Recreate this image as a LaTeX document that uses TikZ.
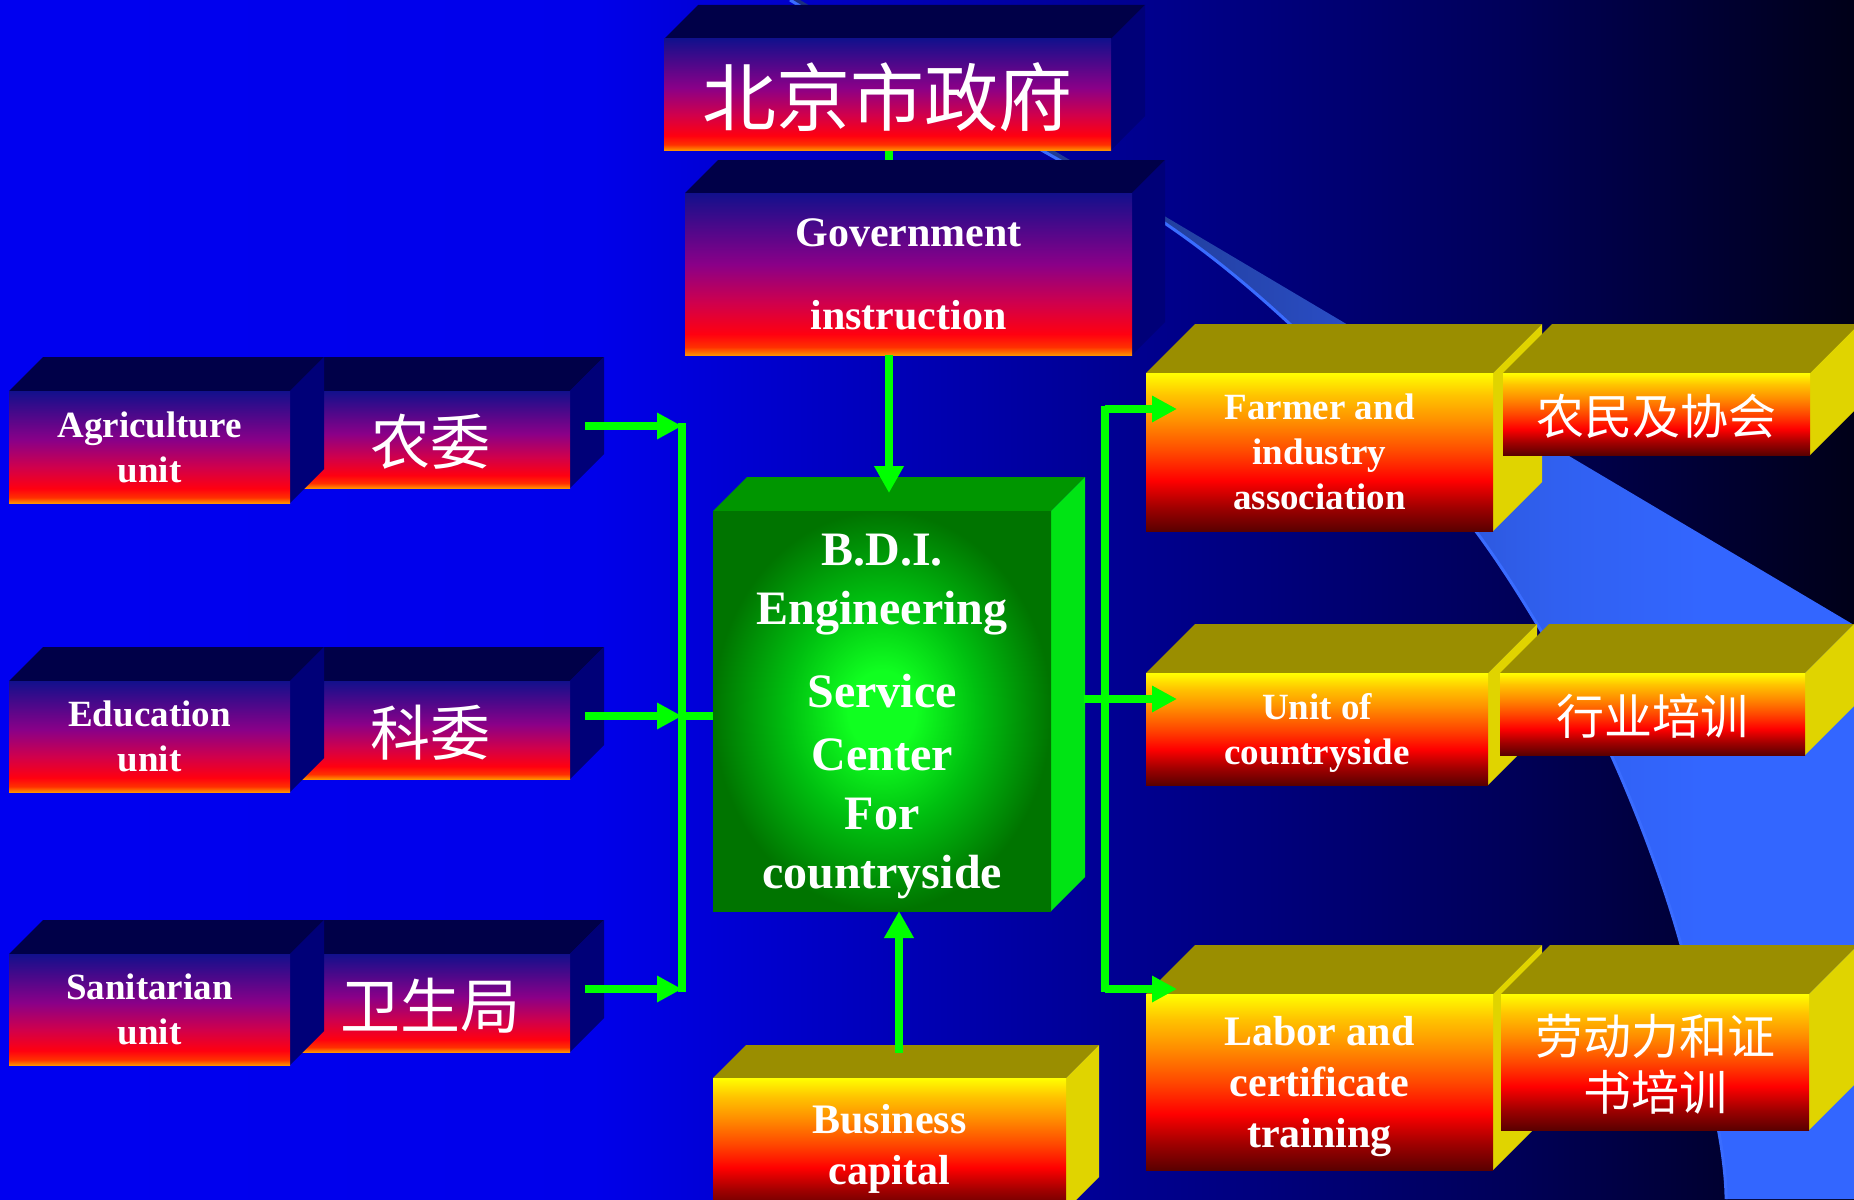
\documentclass[tikz,border=0pt]{standalone}
\usepackage{fontspec}
\setmainfont{Liberation Serif}
\newfontfamily\cjk{Noto Sans CJK SC}
\usetikzlibrary{arrows.meta,calc}
\pgfdeclarelayer{back}
\pgfdeclarelayer{mid}
\pgfsetlayers{back,mid,main}

% background colours
\definecolor{bgA}{HTML}{0000F0}
\definecolor{bgB}{HTML}{0000EA}
\definecolor{bgC}{HTML}{0000C8}
\definecolor{bgD}{HTML}{000094}
\definecolor{bgE}{HTML}{00005A}
\definecolor{bgF}{HTML}{000018}
\pgfdeclarehorizontalshading{bgshade}{100bp}{color(0bp)=(bgA); color(25bp)=(bgA); color(41bp)=(bgB); color(46.5bp)=(bgC); color(54.7bp)=(bgD); color(65.5bp)=(bgE); color(75bp)=(bgF); color(100bp)=(bgF)}
% swoosh
\definecolor{swA}{HTML}{1A2F80}
\definecolor{swB}{HTML}{213E9C}
\definecolor{swC}{HTML}{2A4DC4}
\definecolor{swD}{HTML}{3060F0}
\definecolor{swE}{HTML}{3366FF}
\definecolor{swEdge}{HTML}{3A6CFF}
\pgfdeclarehorizontalshading{swshade}{100bp}{color(0bp)=(swA); color(25bp)=(swA); color(42bp)=(swB); color(51bp)=(swC); color(61bp)=(swD); color(68bp)=(swE); color(100bp)=(swE)}
% navy boxes
\definecolor{nf0}{HTML}{FF9000}
\definecolor{nf1}{HTML}{FF3000}
\definecolor{nf2}{HTML}{FF0010}
\definecolor{nf3}{HTML}{D0004C}
\definecolor{nf4}{HTML}{8A0088}
\definecolor{nf5}{HTML}{12108C}
\definecolor{navyTop}{HTML}{000048}
\definecolor{navySide}{HTML}{000078}
\pgfdeclareverticalshading{navyshade}{100bp}{color(0bp)=(nf0); color(25bp)=(nf0); color(27.5bp)=(nf1); color(31.5bp)=(nf2); color(41bp)=(nf3); color(53bp)=(nf4); color(75bp)=(nf5); color(100bp)=(nf5)}
% yellow boxes
\definecolor{yf0}{HTML}{5A0000}
\definecolor{yf1}{HTML}{A00000}
\definecolor{yf2}{HTML}{FF0000}
\definecolor{yf3}{HTML}{FF4800}
\definecolor{yf4}{HTML}{FF9000}
\definecolor{yf5}{HTML}{FFC400}
\definecolor{yf6}{HTML}{FFFF00}
\definecolor{yelTop}{HTML}{9A8E00}
\definecolor{yelSide}{HTML}{E0D400}
\pgfdeclareverticalshading{yelshade}{100bp}{color(0bp)=(yf0); color(25bp)=(yf0); color(32.5bp)=(yf1); color(41bp)=(yf2); color(50bp)=(yf3); color(60bp)=(yf4); color(68bp)=(yf5); color(75bp)=(yf6); color(100bp)=(yf6)}
% green box
\definecolor{g0}{HTML}{10FF20}
\definecolor{g1}{HTML}{00C010}
\definecolor{g2}{HTML}{007400}
\definecolor{grnTop}{HTML}{009600}
\definecolor{grnSide}{HTML}{00E414}
\pgfdeclareradialshading{greenglow}{\pgfpointorigin}{color(0bp)=(g0); color(5bp)=(g0); color(14bp)=(g1); color(25bp)=(g2); color(50bp)=(g2)}
\definecolor{lgreen}{HTML}{00FF00}

\tikzset{
  navytop/.style={fill=navyTop}, navyside/.style={fill=navySide},
  navyfront/.style={shade, shading=navyshade},
  yeltop/.style={fill=yelTop}, yelside/.style={fill=yelSide},
  yelfront/.style={shade, shading=yelshade},
  grntop/.style={fill=grnTop}, grnside/.style={fill=grnSide},
  grnfront/.style={shade, shading=greenglow},
  boxtext/.style={text=white, align=center, inner sep=0pt, outer sep=0pt},
  enS/.style={font=\bfseries\fontsize{37}{45}\selectfont, text depth=0pt},
  enM/.style={font=\bfseries\fontsize{42}{51}\selectfont, text depth=0pt},
  enL/.style={font=\bfseries\fontsize{48}{59}\selectfont, text depth=0pt},
  cnS/.style={font=\cjk\fontsize{48}{56}\selectfont, text depth=-3pt},
  cnM/.style={font=\cjk\fontsize{60}{70}\selectfont, text depth=-3pt},
  cnL/.style={font=\cjk\fontsize{74}{80}\selectfont, text depth=-3pt},
  conn/.style={draw=lgreen, line width=7.5pt},
  tipbig/.style={-{Triangle[length=27pt,width=28pt]}},
  tipsmall/.style={-{Triangle[length=25pt,width=25pt]}}
}

% #1 name, #2 x1, #3 y1, #4 x2, #5 y2, #6 depth, #7 kind, #8 text style, #9 text
\newcommand\mkbox[9]{%
  \fill[#7top] (#2,#3) -- ({#2+#6},{#3-#6}) -- ({#4+#6},{#3-#6}) -- (#4,#3) -- cycle;
  \fill[#7side] (#4,#3) -- ({#4+#6},{#3-#6}) -- ({#4+#6},{#5-#6}) -- (#4,#5) -- cycle;
  \node[#7front, boxtext, #8, minimum width={#4-#2}, minimum height={#5-#3}] (#1) at ({(#2+#4)/2},{(#3+#5)/2}) {#9};
}

\begin{document}
\begin{tikzpicture}[x=1pt,y=-1pt]
\useasboundingbox (0,0) rectangle (1854,1199);
\begin{pgfonlayer}{back}
  \shade[shading=bgshade] (0,0) rectangle (1854,1199);
  \shade[shading=swshade] (800,0) -- (1854,625) -- (1854,1199) -- (1726,1199)
    -- plot[smooth, tension=0.6] coordinates {(1726,1199) (1719,1133) (1680,941) (1613,759) (1540,629) (1475,530) (1400,440) (1292,326) (1166,224) (1000,126) (790,0)} -- cycle;
  \draw[line width=3pt, swEdge] plot[smooth, tension=0.6] coordinates {(1726,1199) (1719,1133) (1680,941) (1613,759) (1540,629) (1475,530) (1400,440) (1292,326) (1166,224) (1000,126) (790,0)};
\end{pgfonlayer}

% top column
\mkbox{bj}{664}{39}{1111}{150}{34}{navy}{cnL}{北京市政府}
\mkbox{gov}{685}{193}{1132}{355}{33}{navy}{enM}{Government\\[32pt]instruction}

% left column (right box behind the left one)
\mkbox{nw}{290}{391}{570}{488}{34}{navy}{cnM}{农委}
\mkbox{agr}{9}{391}{290}{503}{34}{navy}{enS}{Agriculture\\unit}
\mkbox{kw}{290}{681}{570}{779}{34}{navy}{cnM}{科委}
\mkbox{edu}{9}{681}{290}{792}{34}{navy}{enS}{Education\\unit}
\mkbox{wsj}{290}{954}{570}{1052}{34}{navy}{cnM}{卫生局}
\mkbox{san}{9}{954}{290}{1065}{34}{navy}{enS}{Sanitarian\\unit}

% centre
\mkbox{bdi}{713}{511}{1051}{911}{34}{grn}{enL}{B.D.I.\\Engineering\\[24pt]Service\\[4pt]Center\\For\\countryside}
\mkbox{bus}{713}{1078}{1066}{1210}{33}{yel}{enM}{Business\\capital}

% right column
\mkbox{farm}{1146}{373}{1493}{531}{49}{yel}{enS}{Farmer and\\industry\\association}
\mkbox{nm}{1503}{373}{1810}{455}{49}{yel}{cnS}{农民及协会}
\mkbox{unit}{1146}{673}{1488}{785}{49}{yel}{enS}{Unit of\\countryside}
\mkbox{hy}{1500}{673}{1805}{755}{49}{yel}{cnS}{行业培训}
\mkbox{lab}{1146}{994}{1493}{1170}{49}{yel}{enM}{Labor and\\certificate\\training}
\mkbox{ld}{1501}{994}{1809}{1130}{49}{yel}{cnS}{劳动力和证\\书培训}

% connectors
\coordinate (t1) at (889,493);
\coordinate (bt) at (899,1053);
\coordinate (lb1) at (682,426);
\coordinate (lb2) at (682,716);
\coordinate (lb3) at (682,989);
\coordinate (rb1) at (1105,409);
\coordinate (rb2) at (1105,699);
\coordinate (rb3) at (1105,989);

\begin{pgfonlayer}{mid}
  \draw[conn] (bj.south -| t1) -- (gov.north -| t1);
\end{pgfonlayer}
\draw[conn, tipbig] (gov.south -| t1) -- (t1);
\draw[conn, tipbig] (bt) -- (bt |- bdi.south);

\draw[conn, tipsmall] ($(nw.east |- lb1)+(15,0)$) -- (lb1);
\draw[conn, tipsmall] ($(kw.east |- lb2)+(15,0)$) -- (lb2);
\draw[conn, tipsmall] ($(wsj.east |- lb3)+(15,0)$) -- (lb3);
\draw[conn] ($(lb1)+(0,-3)$) -- ($(lb3)+(0,3)$);
\draw[conn] (lb2) -- (bdi.west |- lb2);

\draw[conn] ($(bdi.east |- rb2)+(33,0)$) -- (rb2);
\draw[conn] ($(rb1)+(0,-3)$) -- ($(rb3)+(0,3)$);
\draw[conn, tipsmall] (rb1) -- ($(farm.west |- rb1)+(31,0)$);
\draw[conn, tipsmall] (rb2) -- ($(unit.west |- rb2)+(31,0)$);
\draw[conn, tipsmall] (rb3) -- ($(lab.west |- rb3)+(31,0)$);
\end{tikzpicture}
\end{document}
